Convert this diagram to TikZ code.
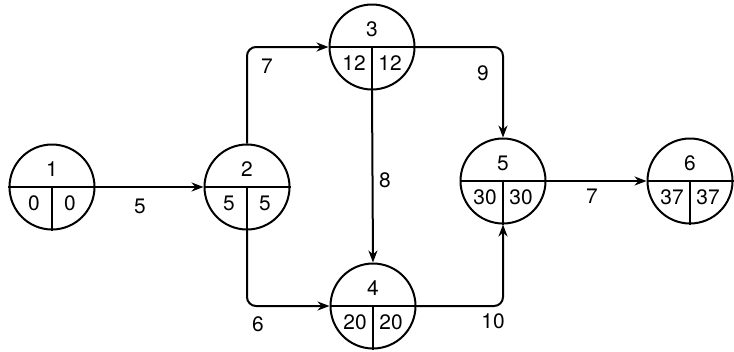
\documentclass[tikz,border=0pt]{standalone}
\usepackage{fontspec}
\setmainfont{TeX Gyre Heros}
\usetikzlibrary{arrows.meta}
\tikzset{
  event/.style={draw, circle, line width=2bp, minimum size=85bp, inner sep=0pt},
  split/.style={draw, line width=2bp},
  num/.style={font=\fontsize{21}{24}\selectfont, inner sep=0pt},
  flow/.style={draw, line width=2bp, rounded corners=9bp, -{Stealth[length=12bp,width=9bp]}},
  lbl/.style={font=\fontsize{21}{24}\selectfont, inner sep=0pt}
}
\begin{document}
\begin{tikzpicture}[x=1bp,y=-1bp]
  \useasboundingbox (0,0) rectangle (734,351);
  % events: number / x / y / early = late time
  \foreach \n/\x/\y/\t in {1/52/187/0, 2/247/187/5, 3/372/47/12, 4/373/306/20, 5/503/181/30, 6/690/181/37}{
    \node[event] (n\n) at (\x,\y) {};
    \draw[split] (n\n.west) -- (n\n.east) (n\n.center) -- (n\n.south);
    \node[num] (id\n) at (\x,\y-18) {\n};
    \node[num] (es\n) at (\x-18,\y+16) {\t};
    \node[num] (lf\n) at (\x+18,\y+16) {\t};
  }
  % activities
  \draw[flow] (n1.east) -- (n2.west);
  \draw[flow] (n2.north) |- (n3.west);
  \draw[flow] (n2.south) |- (n4.west);
  \draw[flow] (n3.south) -- (n4.north);
  \draw[flow] (n3.east) -| (n5.north);
  \draw[flow] (n4.east) -| (n5.south);
  \draw[flow] (n5.east) -- (n6.west);
  % durations
  \node[lbl] (d12) at (140,206) {5};
  \node[lbl] (d23) at (267,66) {7};
  \node[lbl] (d24) at (258,324) {6};
  \node[lbl] (d34) at (385,180) {8};
  \node[lbl] (d35) at (483,73) {9};
  \node[lbl] (d45) at (493,321) {10};
  \node[lbl] (d56) at (592,196) {7};
\end{tikzpicture}
\end{document}
